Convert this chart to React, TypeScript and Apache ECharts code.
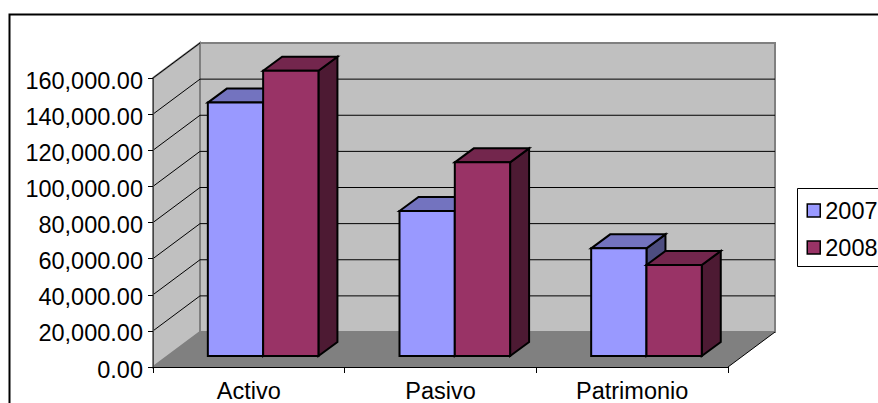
import React, { useEffect, useRef } from "react";
import * as echarts from "echarts";

const categories = ["Activo", "Pasivo", "Patrimonio"];
const seriesNames = ["2007", "2008"];
const values2007 = [140300, 80300, 59600];
const values2008 = [157900, 107200, 50400];
const yTicks = [0, 20000, 40000, 60000, 80000, 100000, 120000, 140000, 160000];

const FONT = '"Liberation Sans", Arial, sans-serif';
const FONT_SIZE = 23.5;
const WALL_DX = 47;
const WALL_DY = 35;
const BAR_OFFSET_X = 14.3;
const BAR_OFFSET_Y = 11;
const BAR_DX = 19;
const BAR_DY = 14;
const BAR_WIDTH_RATIO = 0.2885;

const frameRender = (params: any, api: any) => {
  const v = api.value(0);
  const sys = params.coordSys;
  const y = api.coord([0, v])[1];
  const x0 = sys.x;
  const x1 = sys.x + sys.width;
  const yBase = sys.y + sys.height;
  const yTop = sys.y;
  const children: any[] = [];
  if (params.dataIndex === 0) {
    children.push(
      {
        type: "polygon",
        shape: { points: [[x0, yBase], [x0 + WALL_DX, yBase - WALL_DY], [x0 + WALL_DX, yTop - WALL_DY], [x0, yTop]] },
        style: { fill: "#C0C0C0", stroke: "#808080", lineWidth: 2 },
      },
      {
        type: "polygon",
        shape: {
          points: [
            [x0 + WALL_DX, yBase - WALL_DY],
            [x1 + WALL_DX, yBase - WALL_DY],
            [x1 + WALL_DX, yTop - WALL_DY],
            [x0 + WALL_DX, yTop - WALL_DY],
          ],
        },
        style: { fill: "#C0C0C0", stroke: "#808080", lineWidth: 2 },
      },
      {
        type: "polygon",
        shape: {
          points: [
            [x0, yBase],
            [x0 + WALL_DX, yBase - WALL_DY],
            [x1 + WALL_DX, yBase - WALL_DY],
            [x1, yBase],
          ],
        },
        style: { fill: "#808080" },
      },
      {
        type: "line",
        shape: { x1: x1, y1: yBase, x2: x1 + WALL_DX, y2: yBase - WALL_DY },
        style: { stroke: "#000", lineWidth: 1 },
      }
    );
  }
  if (v > 0) {
    children.push({
      type: "line",
      shape: { x1: x0, y1: y, x2: x0 + WALL_DX, y2: y - WALL_DY },
      style: { stroke: "#000", lineWidth: 1 },
    });
    if (v < 160000) {
      children.push({
        type: "line",
        shape: { x1: x0 + WALL_DX, y1: y - WALL_DY, x2: x1 + WALL_DX, y2: y - WALL_DY },
        style: { stroke: "#000", lineWidth: 1 },
      });
    }
  }
  return { type: "group", children };
};

const barRender = (seriesIndex: number, front: string, top: string, side: string) => (params: any, api: any) => {
  const cat = api.value(0);
  const val = api.value(1);
  const base = api.coord([cat, 0]);
  const head = api.coord([cat, val]);
  const band = api.size([1, 0])[0];
  const w = band * BAR_WIDTH_RATIO;
  const xl = base[0] + BAR_OFFSET_X + (seriesIndex - 1) * w;
  const xr = xl + w;
  const yb = base[1] - BAR_OFFSET_Y;
  const yt = head[1] - BAR_OFFSET_Y;
  const stroke = { stroke: "#000", lineWidth: 2, lineJoin: "miter" };
  return {
    type: "group",
    children: [
      {
        type: "polygon",
        shape: { points: [[xr, yb], [xr + BAR_DX, yb - BAR_DY], [xr + BAR_DX, yt - BAR_DY], [xr, yt]] },
        style: { fill: side, ...stroke },
      },
      {
        type: "polygon",
        shape: { points: [[xl, yt], [xl + BAR_DX, yt - BAR_DY], [xr + BAR_DX, yt - BAR_DY], [xr, yt]] },
        style: { fill: top, ...stroke },
      },
      {
        type: "polygon",
        shape: { points: [[xl, yb], [xr, yb], [xr, yt], [xl, yt]] },
        style: { fill: front, ...stroke },
      },
    ],
  };
};

export default function App() {
  const ref = useRef<HTMLDivElement>(null);
  useEffect(() => {
    document.body.style.margin = "0";
    const chart = echarts.init(ref.current!, undefined, { renderer: "svg" });
    chart.setOption({
      animation: false,
      backgroundColor: "#fff",
      grid: { left: 153, right: 150, top: 78, bottom: 36, containLabel: false, outerBoundsMode: "none" },
      graphic: [
        {
          type: "rect",
          shape: { x: 9.5, y: 14.5, width: 1000, height: 1000 },
          style: { fill: "none", stroke: "#000", lineWidth: 2 },
          z: 0,
        },
        {
          type: "rect",
          shape: { x: 797.5, y: 188.5, width: 200, height: 78 },
          style: { fill: "#fff", stroke: "#000", lineWidth: 1 },
          z: 1,
        },
      ],
      legend: {
        orient: "vertical",
        left: 797.5,
        top: 188.5,
        data: seriesNames,
        icon: "rect",
        itemWidth: 13,
        itemHeight: 13,
        itemGap: 13,
        padding: [10, 0, 10, 9],
        itemStyle: { borderColor: "#000", borderWidth: 1.5 },
        textStyle: { fontFamily: FONT, fontSize: FONT_SIZE, color: "#000" },
      },
      xAxis: {
        type: "category",
        data: categories,
        z: 2,
        axisLine: { lineStyle: { color: "#000", width: 1 } },
        axisTick: { show: true, length: 6, alignWithLabel: false, lineStyle: { color: "#000" } },
        axisLabel: { fontFamily: FONT, fontSize: FONT_SIZE, lineHeight: 20, color: "#000", margin: 14.25, interval: 0 },
        splitLine: { show: false },
      },
      yAxis: {
        type: "value",
        min: 0,
        max: 160000,
        interval: 20000,
        z: 2,
        axisLine: { show: true, lineStyle: { color: "#444", width: 1 } },
        axisTick: { show: true, length: 5, lineStyle: { color: "#000" } },
        axisLabel: {
          fontFamily: FONT,
          fontSize: FONT_SIZE,
          color: "#000",
          margin: 10,
          verticalAlign: "top",
          lineHeight: 5,
          formatter: (v: number) =>
            v.toLocaleString("en-US", { minimumFractionDigits: 2, maximumFractionDigits: 2 }),
        },
        splitLine: { show: false },
      },
      series: [
        {
          type: "custom",
          name: "frame",
          z: 1,
          silent: true,
          renderItem: frameRender,
          encode: { y: 0 },
          data: yTicks.map((t) => [t]),
        },
        {
          type: "custom",
          name: seriesNames[0],
          z: 3,
          itemStyle: { color: "#9999FF" },
          renderItem: barRender(0, "#9999FF", "#7373BF", "#4D4D80"),
          encode: { x: 0, y: 1 },
          data: values2007.map((v, i) => [i, v]),
        },
        {
          type: "custom",
          name: seriesNames[1],
          z: 4,
          itemStyle: { color: "#993366" },
          renderItem: barRender(1, "#993366", "#73264D", "#4D1A33"),
          encode: { x: 0, y: 1 },
          data: values2008.map((v, i) => [i, v]),
        },
      ],
    });
    return () => chart.dispose();
  }, []);
  return <div ref={ref} style={{ width: 878, height: 403 }} />;
}
